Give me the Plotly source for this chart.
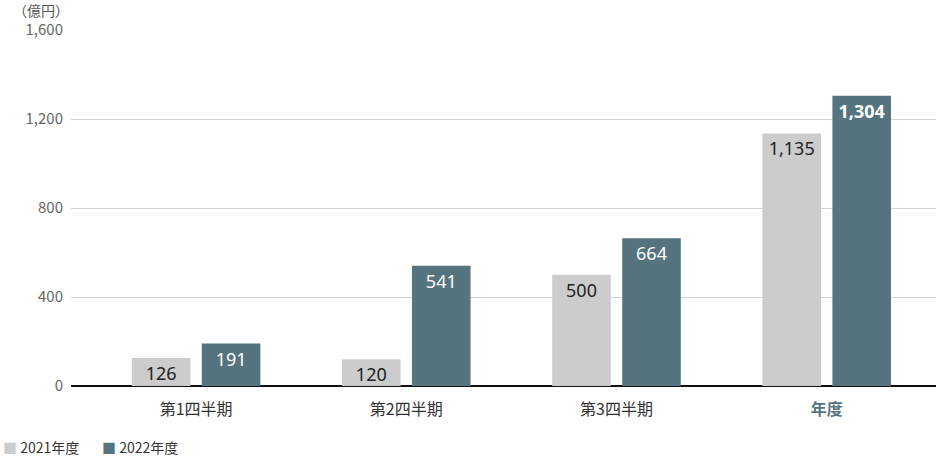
import plotly.graph_objects as go

# data
categories = ["第1四半期", "第2四半期", "第3四半期", "年度"]
fy2021 = [126, 120, 500, 1135]
fy2022 = [191, 541, 664, 1304]
series_names = ["2021年度", "2022年度"]
y_ticks = [0, 400, 800, 1200, 1600]

GRAY = "#cccccc"
TEAL = "#557480"
FONT = "Noto Sans CJK JP"
NUM_FONT = "Noto Sans"

# the annual label is shown bold in the accent colour
tick_text = categories[:-1] + [f"<b><span style='color:{TEAL}'>{categories[-1]}</span></b>"]

label_2022 = [f"{v:,}" for v in fy2022]
label_2022[-1] = f"<b>{label_2022[-1]}</b>"

fig = go.Figure()

fig.add_trace(go.Bar(
    x=categories,
    y=fy2021,
    name=series_names[0],
    marker=dict(color=GRAY, line=dict(width=0)),
    text=[f"{v:,}" for v in fy2021],
    textposition="inside",
    insidetextanchor="end",
    textangle=0,
    constraintext="none",
    textfont=dict(family=NUM_FONT, size=18, color="#222222"),
))

fig.add_trace(go.Bar(
    x=categories,
    y=fy2022,
    name=series_names[1],
    marker=dict(color=TEAL, line=dict(width=0)),
    text=label_2022,
    textposition="inside",
    insidetextanchor="end",
    textangle=0,
    constraintext="none",
    textfont=dict(family=NUM_FONT, size=18, color="#ffffff"),
))

fig.add_annotation(
    text="（億円）",
    xref="paper", yref="paper",
    x=-0.069, y=1.057,
    xanchor="left", yanchor="middle",
    showarrow=False,
    font=dict(family=FONT, size=14, color="#555555"),
)

# legend at the bottom-left, drawn as text so the swatches sit tight to the labels
for name, color, xpos in zip(series_names, [GRAY, TEAL], [-0.081, 0.033]):
    fig.add_annotation(
        text=f"<span style='color:{color}'>■</span> {name}",
        xref="paper", yref="paper",
        x=xpos, y=-0.171,
        xanchor="left", yanchor="middle",
        showarrow=False,
        font=dict(family=FONT, size=14, color="#333333"),
    )

fig.update_layout(
    width=936,
    height=456,
    margin=dict(l=71, r=0, t=30, b=70, autoexpand=False),
    paper_bgcolor="white",
    plot_bgcolor="white",
    font=dict(family=FONT, color="#333333"),
    barmode="group",
    bargap=0.334,
    bargroupgap=0.163,
    showlegend=False,
    xaxis=dict(
        range=[-0.595, 3.52],
        tickmode="array",
        tickvals=categories,
        ticktext=tick_text,
        tickfont=dict(family=FONT, size=16, color="#333333"),
        ticks="",
        ticklabelstandoff=12,
        showgrid=False,
        showline=False,
    ),
    yaxis=dict(
        range=[0, 1600],
        tickvals=y_ticks,
        tickformat=",",
        tickfont=dict(family=FONT, size=15, color="#666666"),
        ticks="",
        ticklabelstandoff=7,
        showgrid=True,
        gridcolor="#d4d4d4",
        gridwidth=1,
        zeroline=True,
        zerolinecolor="#111111",
        zerolinewidth=1.5,
        showline=False,
    ),
)

# drop the browser's default page margin so the figure sits at the window corner
fig.write_html(
    "out.html",
    config={"displayModeBar": False},
    post_script="document.body.style.margin='0';",
)
